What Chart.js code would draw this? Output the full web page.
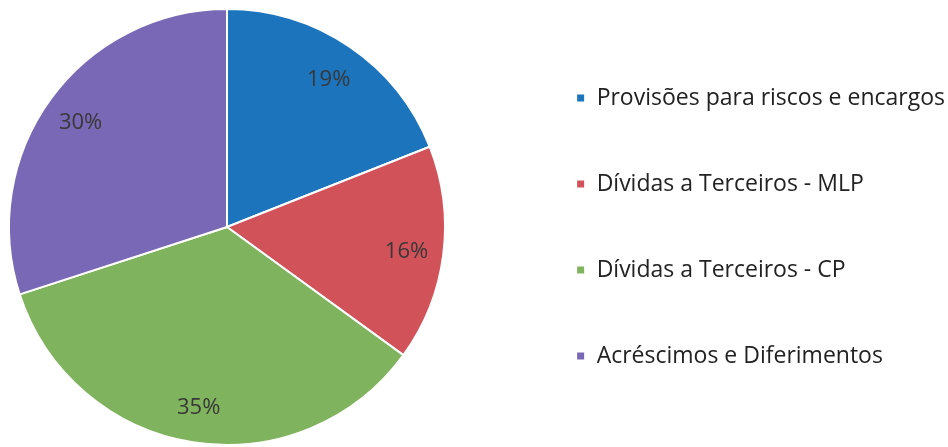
<!DOCTYPE html>
<html>
<head>
<meta charset="utf-8">
<script src="https://cdn.jsdelivr.net/npm/chart.js@4"></script>
<style>
  html, body { margin: 0; padding: 0; background: #fff; }
  #wrap { width: 948px; height: 447px; }
</style>
</head>
<body>
<div id="wrap"><canvas id="grafico"></canvas></div>
<script>
const categorias = [
  "Provisões para riscos e encargos",
  "Dívidas a Terceiros - MLP",
  "Dívidas a Terceiros - CP",
  "Acréscimos e Diferimentos"
];
const percentuais = [19, 16, 35, 30];
const cores = ["#1c74bc", "#d2525a", "#80b35d", "#7968b5"];

// pizza encostada à esquerda: área do gráfico quadrada; legenda um pouco mais à direita
const pizzaEsquerda = {
  id: "pizzaEsquerda",
  afterLayout(chart) {
    const a = chart.chartArea;
    a.right = a.left + (a.bottom - a.top);
    a.width = a.right - a.left;
    chart.legend.left += 7;
    chart.legend.right += 7;
  }
};

// rótulos de percentagem dentro das fatias
const rotulosPct = {
  id: "rotulosPct",
  afterDatasetsDraw(chart) {
    const ctx = chart.ctx;
    const meta = chart.getDatasetMeta(0);
    ctx.save();
    ctx.font = "22px 'Open Sans'";
    ctx.fillStyle = "#383838";
    ctx.textAlign = "center";
    ctx.textBaseline = "middle";
    meta.data.forEach((arc, i) => {
      const p = arc.getProps(["x", "y", "startAngle", "endAngle", "outerRadius"], true);
      const meio = (p.startAngle + p.endAngle) / 2;
      const r = p.outerRadius * 0.83;
      ctx.fillText(percentuais[i] + "%", p.x + Math.cos(meio) * r, p.y + Math.sin(meio) * r + 2);
    });
    ctx.restore();
  }
};

new Chart(document.getElementById("grafico"), {
  type: "pie",
  data: {
    labels: categorias,
    datasets: [{
      data: percentuais,
      backgroundColor: cores,
      borderColor: "#ffffff",
      borderWidth: 2
    }]
  },
  options: {
    responsive: true,
    maintainAspectRatio: false,
    animation: false,
    layout: {
      padding: { left: 8, top: 8, bottom: 1, right: 0 }
    },
    plugins: {
      tooltip: { enabled: false },
      legend: {
        position: "right",
        labels: {
          boxWidth: 9,
          boxHeight: 9,
          padding: 63,
          color: "#222222",
          font: { family: "'Open Sans'", size: 23 }
        }
      }
    }
  },
  plugins: [pizzaEsquerda, rotulosPct]
});
</script>
</body>
</html>
